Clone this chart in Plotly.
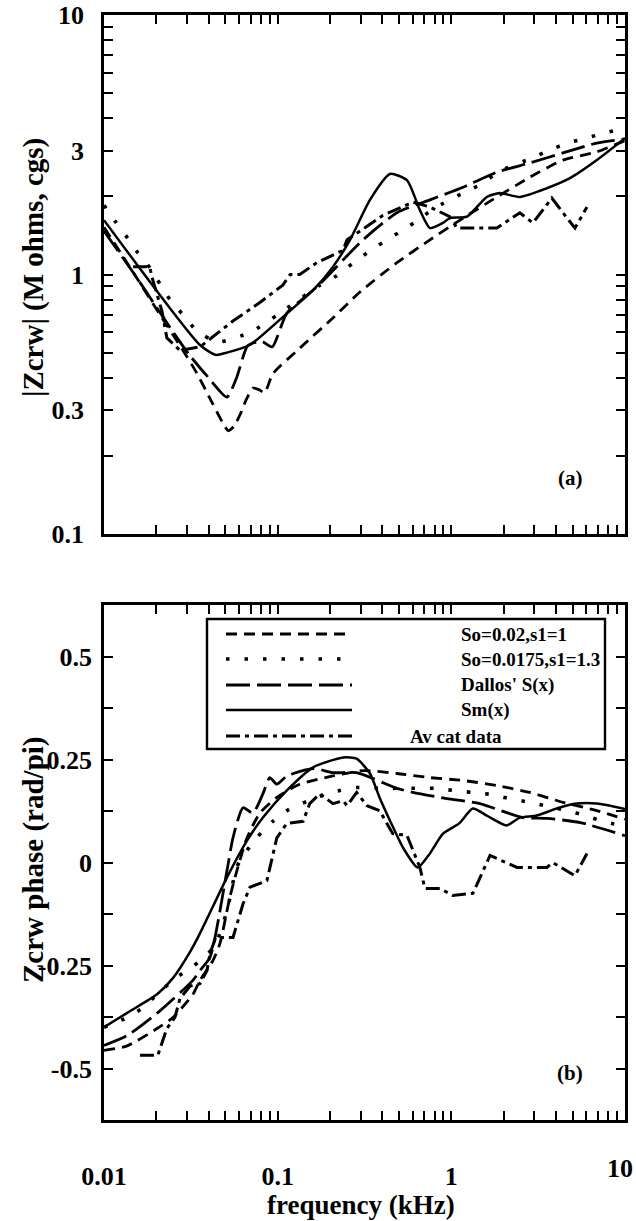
import plotly.graph_objects as go

# ---------------- data ----------------
# |Zcrw| (M ohms, cgs) vs frequency (kHz)
mag_dashed_f = [0.01, 0.015, 0.021, 0.028, 0.034, 0.042, 0.048, 0.052, 0.056, 0.061, 0.066, 0.072, 0.078, 0.084,
                0.094, 0.134, 0.208, 0.30, 0.486, 0.753, 1.17, 1.83, 2.83, 4.39, 6.89, 10]
mag_dashed_v = [1.52, 1.0, 0.70, 0.52, 0.42, 0.32, 0.27, 0.25, 0.26, 0.29, 0.33, 0.365, 0.36, 0.35,
                0.415, 0.52, 0.68, 0.86, 1.11, 1.36, 1.65, 1.99, 2.37, 2.76, 2.97, 3.28]

mag_dotted_f = [0.01, 0.0117, 0.0137, 0.0157, 0.0184, 0.021, 0.0243, 0.0285, 0.034, 0.045, 0.07, 0.1, 0.175,
                0.219, 0.268, 0.327, 0.404, 0.506, 0.617, 0.8, 1.2, 1.5, 1.85, 2.91, 3.7, 4.69, 6.04, 7.66, 10]
mag_dotted_v = [1.85, 1.59, 1.38, 1.21, 1.06, 0.92, 0.79, 0.70, 0.61, 0.55, 0.6, 0.7, 0.91,
                0.99, 1.10, 1.21, 1.33, 1.46, 1.59, 1.8, 2.08, 2.23, 2.48, 2.81, 3.02, 3.21, 3.36, 3.51, 3.67]

mag_dallos_f = [0.01, 0.015, 0.02, 0.025, 0.031, 0.04, 0.051, 0.058, 0.067, 0.076, 0.082, 0.093, 0.113, 0.168,
                0.31, 0.486, 0.753, 1.17, 1.83, 2.83, 4.39, 6.89, 10]
mag_dallos_v = [1.47, 1.0, 0.75, 0.6, 0.49, 0.40, 0.337, 0.40, 0.53, 0.55, 0.55, 0.526, 0.71, 0.895,
                1.36, 1.73, 1.94, 2.17, 2.48, 2.69, 2.94, 3.21, 3.33]

mag_sm_f = [0.01, 0.0357, 0.044, 0.051, 0.069, 0.103, 0.16, 0.208, 0.261, 0.34, 0.443, 0.555, 0.659, 0.753,
            0.895, 0.98, 1.23, 1.6, 1.9, 2.48, 3.55, 4.82, 6.89, 10]
mag_sm_v = [1.62, 0.535, 0.49, 0.50, 0.535, 0.67, 0.87, 1.07, 1.36, 1.94, 2.44, 2.31, 1.77, 1.51,
            1.58, 1.65, 1.67, 1.99, 2.06, 1.99, 2.15, 2.35, 2.76, 3.35]

mag_cat_f = [0.0147, 0.0184, 0.0187, 0.0216, 0.023, 0.0274, 0.0357, 0.055, 0.079, 0.107, 0.118, 0.134, 0.168,
             0.238, 0.251, 0.404, 0.601, 0.753, 0.98, 1.077, 1.83, 2.48, 2.95, 3.79, 4.39, 5.15, 6.04]
mag_cat_v = [1.07, 1.07, 1.0, 0.72, 0.57, 0.51, 0.526, 0.66, 0.78, 0.91, 1.0, 1.0, 1.11,
             1.24, 1.36, 1.69, 1.90, 1.82, 1.67, 1.51, 1.51, 1.73, 1.58, 1.97, 1.73, 1.51, 1.82]

# Zcrw phase (rad/pi) vs frequency (kHz)
ph_dashed_f = [0.01, 0.0136, 0.0202, 0.025, 0.0325, 0.0357, 0.0424, 0.0465, 0.053, 0.0583, 0.0666, 0.079, 0.099,
               0.134, 0.208, 0.31, 0.486, 0.753, 1.17, 1.83, 2.83, 4.39, 6.89, 10]
ph_dashed_v = [-0.456, -0.445, -0.403, -0.376, -0.32, -0.286, -0.238, -0.197, -0.085, -0.019, 0.06, 0.12, 0.158,
               0.19, 0.21, 0.223, 0.216, 0.206, 0.199, 0.187, 0.17, 0.146, 0.126, 0.105]

ph_dotted_f = [0.01, 0.0136, 0.0168, 0.0202, 0.026, 0.033, 0.04, 0.0447, 0.0511, 0.0583, 0.0666, 0.076, 0.0938,
               0.113, 0.168, 0.228, 0.285, 0.404, 0.80, 1.018, 1.33, 1.71, 2.17, 2.83, 3.6, 4.63, 5.89, 7.46, 10]
ph_dotted_v = [-0.40, -0.376, -0.352, -0.32, -0.28, -0.25, -0.22, -0.19, -0.117, -0.01, 0.029, 0.061, 0.10,
               0.126, 0.158, 0.175, 0.182, 0.18, 0.18, 0.175, 0.17, 0.165, 0.155, 0.146, 0.136, 0.126, 0.114, 0.1, 0.088]

ph_dallos_f = [0.01, 0.0136, 0.021, 0.0325, 0.0357, 0.0408, 0.0511, 0.0553, 0.0632, 0.072, 0.0823, 0.09, 0.099,
               0.113, 0.16, 0.208, 0.285, 0.486, 0.601, 0.942, 1.46, 2.08, 2.58, 3.55, 5.52, 10]
ph_dallos_v = [-0.444, -0.42, -0.36, -0.286, -0.262, -0.23, -0.019, 0.06, 0.133, 0.12, 0.167, 0.206, 0.19,
               0.21, 0.228, 0.218, 0.218, 0.18, 0.17, 0.155, 0.143, 0.121, 0.109, 0.107, 0.097, 0.065]

ph_sm_f = [0.01, 0.0136, 0.0202, 0.025, 0.031, 0.0357, 0.0511, 0.0666, 0.0823, 0.113, 0.16, 0.238, 0.285, 0.34,
           0.386, 0.443, 0.527, 0.64, 0.753, 0.895, 1.11, 1.33, 1.6, 2.08, 2.48, 3.11, 4.04, 5.28, 6.89, 10]
ph_sm_v = [-0.40, -0.365, -0.32, -0.28, -0.22, -0.172, -0.036, 0.053, 0.109, 0.175, 0.231, 0.255, 0.252, 0.216,
           0.158, 0.102, 0.036, -0.012, 0.022, 0.07, 0.095, 0.131, 0.114, 0.09, 0.109, 0.114, 0.131, 0.143, 0.143, 0.13]

ph_cat_f = [0.0161, 0.0204, 0.023, 0.0256, 0.0274, 0.0313, 0.0357, 0.0392, 0.0408, 0.044, 0.0553, 0.0632, 0.0693,
            0.0867, 0.0989, 0.113, 0.14, 0.153, 0.175, 0.208, 0.238, 0.251, 0.285, 0.327, 0.386, 0.46, 0.555,
            0.659, 0.705, 0.861, 1.018, 1.33, 1.67, 2.39, 3.55, 3.83, 5.15, 6.04]
ph_cat_v = [-0.468, -0.468, -0.403, -0.376, -0.33, -0.30, -0.294, -0.262, -0.22, -0.182, -0.182, -0.10, -0.06,
            -0.044, 0.06, 0.095, 0.10, 0.143, 0.167, 0.143, 0.15, 0.138, 0.17, 0.138, 0.126, 0.07, 0.066,
            -0.012, -0.063, -0.063, -0.08, -0.075, 0.017, -0.012, -0.012, 0.0, -0.032, 0.022]

series_names = ["So=0.02,s1=1", "So=0.0175,s1=1.3", "Dallos' S(x)", "Sm(x)", "Av cat data"]

x_tick_vals = [m * 10.0 ** e for e in (-2, -1, 0) for m in range(1, 10)] + [10]
x_tick_text = ["0.01", "", "", "", "", "", "", "", "",
               "0.1", "", "", "", "", "", "", "", "",
               "1", "", "", "", "", "", "", "", "", "10"]
mag_tick_vals = [m * 10.0 ** e for e in (-1, 0) for m in range(1, 10)] + [10]
mag_tick_text = ["0.1", "", "0.3", "", "", "", "", "", "",
                 "1", "", "3", "", "", "", "", "", "", "10"]
ph_tick_vals = [-0.5, -0.375, -0.25, -0.125, 0, 0.125, 0.25, 0.375, 0.5]
ph_tick_text = ["-0.5", "", "-0.25", "", "0", "", "0.25", "", "0.5"]

# ---------------- styling ----------------
W, H = 636, 1221
FONT = "Liberation Serif, Times New Roman, serif"
BLACK = "#000000"


def px(x):
    return x / W


def py(y):
    return 1 - y / H


styles = [
    dict(dash="11px,7px", width=2.8, shape="spline"),
    dict(dash="3.5px,15px", width=3.6, shape="spline"),
    dict(dash="24px,7px", width=2.8, shape="spline"),
    dict(dash="solid", width=2.5, shape="spline"),
    dict(dash="14px,5px,4px,5px", width=3.0, shape="linear"),
]

mag_data = [(mag_dashed_f, mag_dashed_v), (mag_dotted_f, mag_dotted_v), (mag_dallos_f, mag_dallos_v),
            (mag_sm_f, mag_sm_v), (mag_cat_f, mag_cat_v)]
ph_data = [(ph_dashed_f, ph_dashed_v), (ph_dotted_f, ph_dotted_v), (ph_dallos_f, ph_dallos_v),
           (ph_sm_f, ph_sm_v), (ph_cat_f, ph_cat_v)]

fig = go.Figure()
for xa, ya, data in (("x", "y", mag_data), ("x2", "y2", ph_data)):
    for (f, v), st, name in zip(data, styles, series_names):
        line = dict(color=BLACK, width=st["width"], dash=st["dash"], shape=st["shape"])
        if st["shape"] == "spline":
            line["smoothing"] = 0.6
        fig.add_trace(go.Scatter(x=f, y=v, mode="lines", name=name, xaxis=xa, yaxis=ya,
                                 line=line, showlegend=False, cliponaxis=True))

TICK_SIZE = 26
axis_common = dict(showline=True, linewidth=2.6, linecolor=BLACK, mirror="allticks", ticks="inside",
                   ticklen=9, tickwidth=2.4, tickcolor=BLACK, showgrid=False, zeroline=False,
                   automargin=False, ticklabeloverflow="allow",
                   tickfont=dict(family=FONT, size=TICK_SIZE, color=BLACK, weight="bold"))

# the last x label ("10") sits at the very edge of the page; it is placed as an annotation nudged inward
x_axis_text = x_tick_text[:-1] + [""]

fig.update_layout(
    template="none",
    width=W, height=H, margin=dict(l=0, r=0, t=0, b=0, pad=0), autosize=False,
    paper_bgcolor="white", plot_bgcolor="white",
    xaxis=dict(axis_common, type="log", range=[-2, 1], domain=[px(104), px(625)], anchor="y",
               tickvals=x_tick_vals, ticktext=[""] * len(x_tick_vals)),
    yaxis=dict(axis_common, type="log", range=[-1, 1], domain=[py(534), py(15)], anchor="x",
               tickvals=mag_tick_vals, ticktext=mag_tick_text, ticklabelstandoff=12),
    xaxis2=dict(axis_common, type="log", range=[-2, 1], domain=[px(104), px(625)], anchor="y2",
                tickvals=x_tick_vals, ticktext=x_axis_text, ticklabelstandoff=31),
    yaxis2=dict(axis_common, range=[-0.625, 0.625], domain=[py(1120), py(605)], anchor="x2",
                tickvals=ph_tick_vals, ticktext=ph_tick_text, ticklabelstandoff=4),
)

annotations = [
    dict(text=x_tick_text[-1], x=px(620), y=py(1168), font=dict(size=TICK_SIZE)),
    dict(text="frequency (kHz)", x=px(361), y=py(1205), font=dict(size=27)),
    dict(text="|Zcrw| (M ohms, cgs)", x=px(33), y=py(268), textangle=-90, font=dict(size=29)),
    dict(text="Zcrw phase (rad/pi)", x=px(33), y=py(860), textangle=-90, font=dict(size=29)),
    dict(text="(a)", x=px(570), y=py(478), font=dict(size=21)),
    dict(text="(b)", x=px(570), y=py(1073), font=dict(size=21)),
]

# legend box (drawn manually to match the original layout)
shapes = [dict(type="rect", xref="paper", yref="paper", x0=px(207), x1=px(605), y0=py(749), y1=py(619),
               line=dict(color=BLACK, width=2.4), fillcolor="white", layer="above")]
rows_y = [634, 659, 685, 710, 736]
text_x = [459, 459, 459, 459, 408]
for st, name, ry, tx in zip(styles, series_names, rows_y, text_x):
    shapes.append(dict(type="line", xref="paper", yref="paper", x0=px(226), x1=px(352), y0=py(ry), y1=py(ry),
                       line=dict(color=BLACK, width=st["width"], dash=st["dash"]), layer="above"))
    annotations.append(dict(text=name, x=px(tx), y=py(ry), xanchor="left", font=dict(size=19)))

for a in annotations:
    a.setdefault("xref", "paper")
    a.setdefault("yref", "paper")
    a.setdefault("showarrow", False)
    a.setdefault("xanchor", "center")
    a.setdefault("yanchor", "middle")
    a["font"] = dict(family=FONT, color=BLACK, weight="bold", **a["font"])

fig.update_layout(annotations=annotations, shapes=shapes)
fig.write_html("out.html")
